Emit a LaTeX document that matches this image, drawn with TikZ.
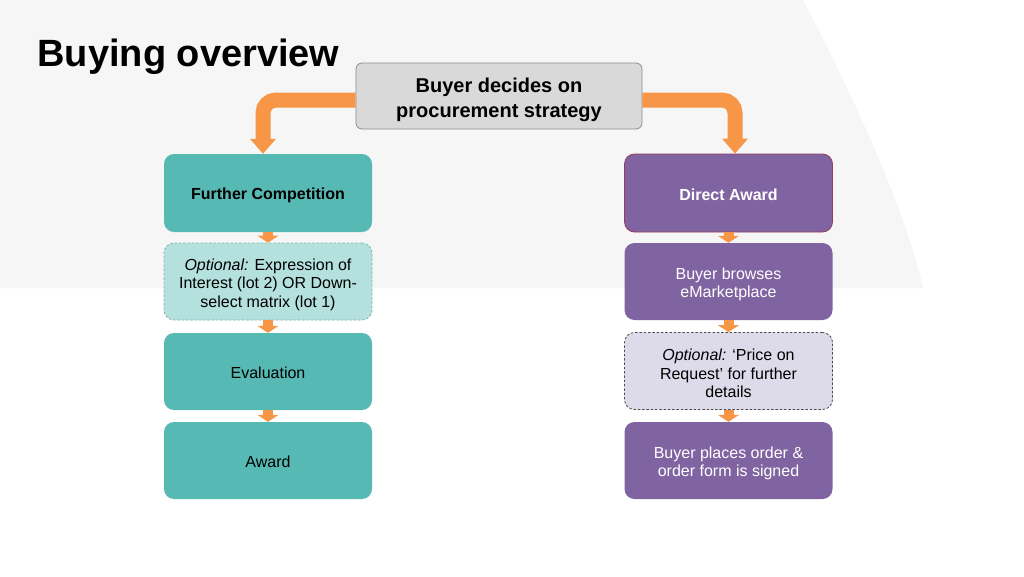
\documentclass[tikz,border=0pt]{standalone}
\usepackage{fontspec}
\setmainfont{Liberation Sans}
\usetikzlibrary{arrows.meta}
\definecolor{bgc}{HTML}{F6F6F6}
\definecolor{orng}{HTML}{F79646}
\definecolor{teal1}{HTML}{57B9B3}
\definecolor{teal2}{HTML}{B4E0DD}
\definecolor{tealdash}{HTML}{7FB5B1}
\definecolor{purp}{HTML}{8064A2}
\definecolor{lav}{HTML}{DDDBEA}
\definecolor{maroon1}{HTML}{953B5E}
\definecolor{topfill}{HTML}{D9D9D9}
\definecolor{topdraw}{HTML}{8C8C8C}
\tikzset{
  boxbase/.style={rounded corners=10pt, minimum width=208pt, minimum height=77pt, inner sep=0pt},
  tealbox/.style={boxbase, fill=teal1},
  tealopt/.style={boxbase, fill=teal2, draw=tealdash, line width=0.8pt, dash pattern=on 2.5pt off 1.8pt},
  purpbox/.style={boxbase, fill=purp},
  lavopt/.style={boxbase, fill=lav, draw=black!70, line width=0.8pt, dash pattern=on 2.5pt off 1.8pt},
  lbl/.style={align=center, inner sep=0pt, font=\fontsize{16}{18.5}\selectfont},
  bigarrow/.style={draw=orng, line width=15pt, rounded corners=13pt, -{Triangle[width=25pt,length=15pt]}},
  smallarrow/.style={draw=orng, line width=10pt, -{Triangle[width=21pt,length=7pt]}}
}
\begin{document}
\begin{tikzpicture}[x=1pt,y=-1pt]
\useasboundingbox (0,0) rectangle (1024,576);
\fill[white] (0,0) rectangle (1024,576);
\fill[bgc] (0,0) -- (803,0) .. controls (860,110) and (905,210) .. (923,288) -- (0,288) -- cycle;

\node[anchor=base west, font=\fontsize{38}{44}\selectfont\bfseries] (title) at (34,66) {Buying overview};

\node[rounded corners=6pt, fill=topfill, draw=topdraw, line width=0.8pt, minimum width=286pt, minimum height=66pt] (top) at (499,96) {};
\node[align=center, inner sep=0pt, font=\fontsize{20}{24.5}\selectfont\bfseries] (toptext) at ([yshift=-4pt]top.center) {Buyer decides on\\procurement strategy};

% left column
\node[tealbox, minimum height=78pt] (fc) at (268,193) {};
\node[lbl, font=\fontsize{16}{18.5}\selectfont\bfseries] (fct) at ([yshift=-2pt]fc.center) {Further Competition};
\node[tealopt] (opt1) at (268,281.5) {};
\node[lbl] (opt1t) at ([yshift=-3pt]opt1.center) {\textit{Optional:} Expression of\\Interest (lot 2) OR Down-\\select matrix (lot 1)};
\node[tealbox] (eval) at (268,371.5) {};
\node[lbl] (evalt) at ([yshift=-1.5pt]eval.center) {Evaluation};
\node[tealbox] (award) at (268,460.5) {};
\node[lbl] (awardt) at ([yshift=-1.5pt]award.center) {Award};

% right column
\node[purpbox, minimum height=78pt, draw=maroon1, line width=0.8pt] (da) at (728.5,193) {};
\node[lbl, text=white, font=\fontsize{16}{18.5}\selectfont\bfseries] (dat) at ([yshift=-2pt]da.center) {Direct Award};
\node[purpbox] (browse) at (728.5,281.5) {};
\node[lbl, text=white] (browset) at ([yshift=-3pt]browse.center) {Buyer browses\\eMarketplace};
\node[lavopt] (por) at (728.5,371) {};
\node[lbl] (port) at ([yshift=-2.5pt]por.center) {\textit{Optional:} ‘Price on\\Request’ for further\\details};
\node[purpbox] (order) at (728.5,460.5) {};
\node[lbl, text=white] (ordert) at ([yshift=-3pt]order.center) {Buyer places order \&\\order form is signed};

% arrows
\draw[bigarrow] ([yshift=-4pt]top.west) -| ([xshift=-5pt]fc.north);
\draw[bigarrow] ([yshift=-4pt]top.east) -| ([xshift=6.5pt]da.north);

\draw[smallarrow] (fc.south) -- (opt1.north);
\draw[smallarrow] (opt1.south) -- (eval.north);
\draw[smallarrow] (eval.south) -- (award.north);
\draw[smallarrow] (da.south) -- (browse.north);
\draw[smallarrow] (browse.south) -- (por.north);
\draw[smallarrow] (por.south) -- (order.north);
\end{tikzpicture}
\end{document}
